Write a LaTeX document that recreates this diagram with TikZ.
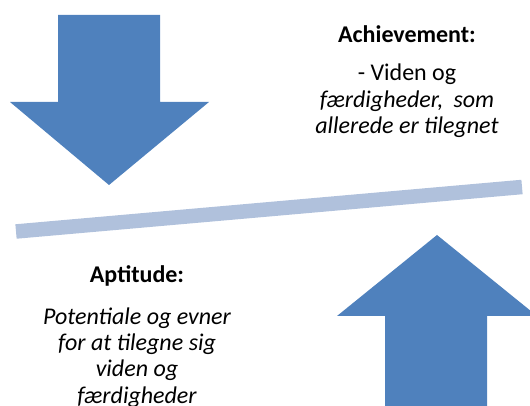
\documentclass[tikz,border=0pt]{standalone}
\usepackage{fontspec}
\setmainfont{Carlito}
\usetikzlibrary{positioning}
\definecolor{arrowblue}{RGB}{79,129,189}
\definecolor{barblue}{RGB}{176,193,220}
\tikzstyle{big_arrow} = [fill=arrowblue,
						 draw=none]
\tikzstyle{scale_bar} = [draw=barblue,
						 line width=14.5pt,
						 line cap=butt]
\tikzstyle{title_text} = [inner sep=0pt,
						  anchor=base,
						  font=\fontsize{24}{26.3}\selectfont\bfseries]
\tikzstyle{body_text} = [inner sep=0pt,
						 align=center,
						 anchor=north,
						 font=\fontsize{24}{26.3}\selectfont]

\begin{document}
\begin{tikzpicture}[x=1pt,y=1pt]
	\useasboundingbox (0,0) rectangle (530,406);
	\clip (0,0) rectangle (530,406);

	%%%%%%%%%%%%
	% ARROWS   %
	%%%%%%%%%%%%
	\fill[big_arrow] (58,391) -- (160,391) -- (160,304) -- (209,304)
		-- (109,221) -- (10,304) -- (58,304) -- cycle;
	\fill[big_arrow] (385,-10) -- (487,-10) -- (487,90) -- (537,90)
		-- (437,171) -- (337,90) -- (385,90) -- cycle;

	%%%%%%%%%%%%
	% BAR      %
	%%%%%%%%%%%%
	\coordinate (barleft) at (16,174.5);
	\coordinate (barright) at (522,219);
	\draw[scale_bar] (barleft) -- (barright);

	%%%%%%%%%%%%
	% TEXTS    %
	%%%%%%%%%%%%
	\node[title_text] (achieve) at (407,363) {Achievement:};
	\node[body_text, below=20.5pt of achieve] (achievetxt) {- Viden og\\ \textit{færdigheder,\hspace{0.2em} som}\\ \textit{allerede er tilegnet}};

	\node[title_text] (aptitude) at (137,123) {Aptitude:};
	\node[body_text, below=20.5pt of aptitude] (aptitudetxt) {\itshape Potentiale og evner\\ \itshape for at tilegne sig\\ \itshape viden og\\ \itshape færdigheder};

\end{tikzpicture}
\end{document}
